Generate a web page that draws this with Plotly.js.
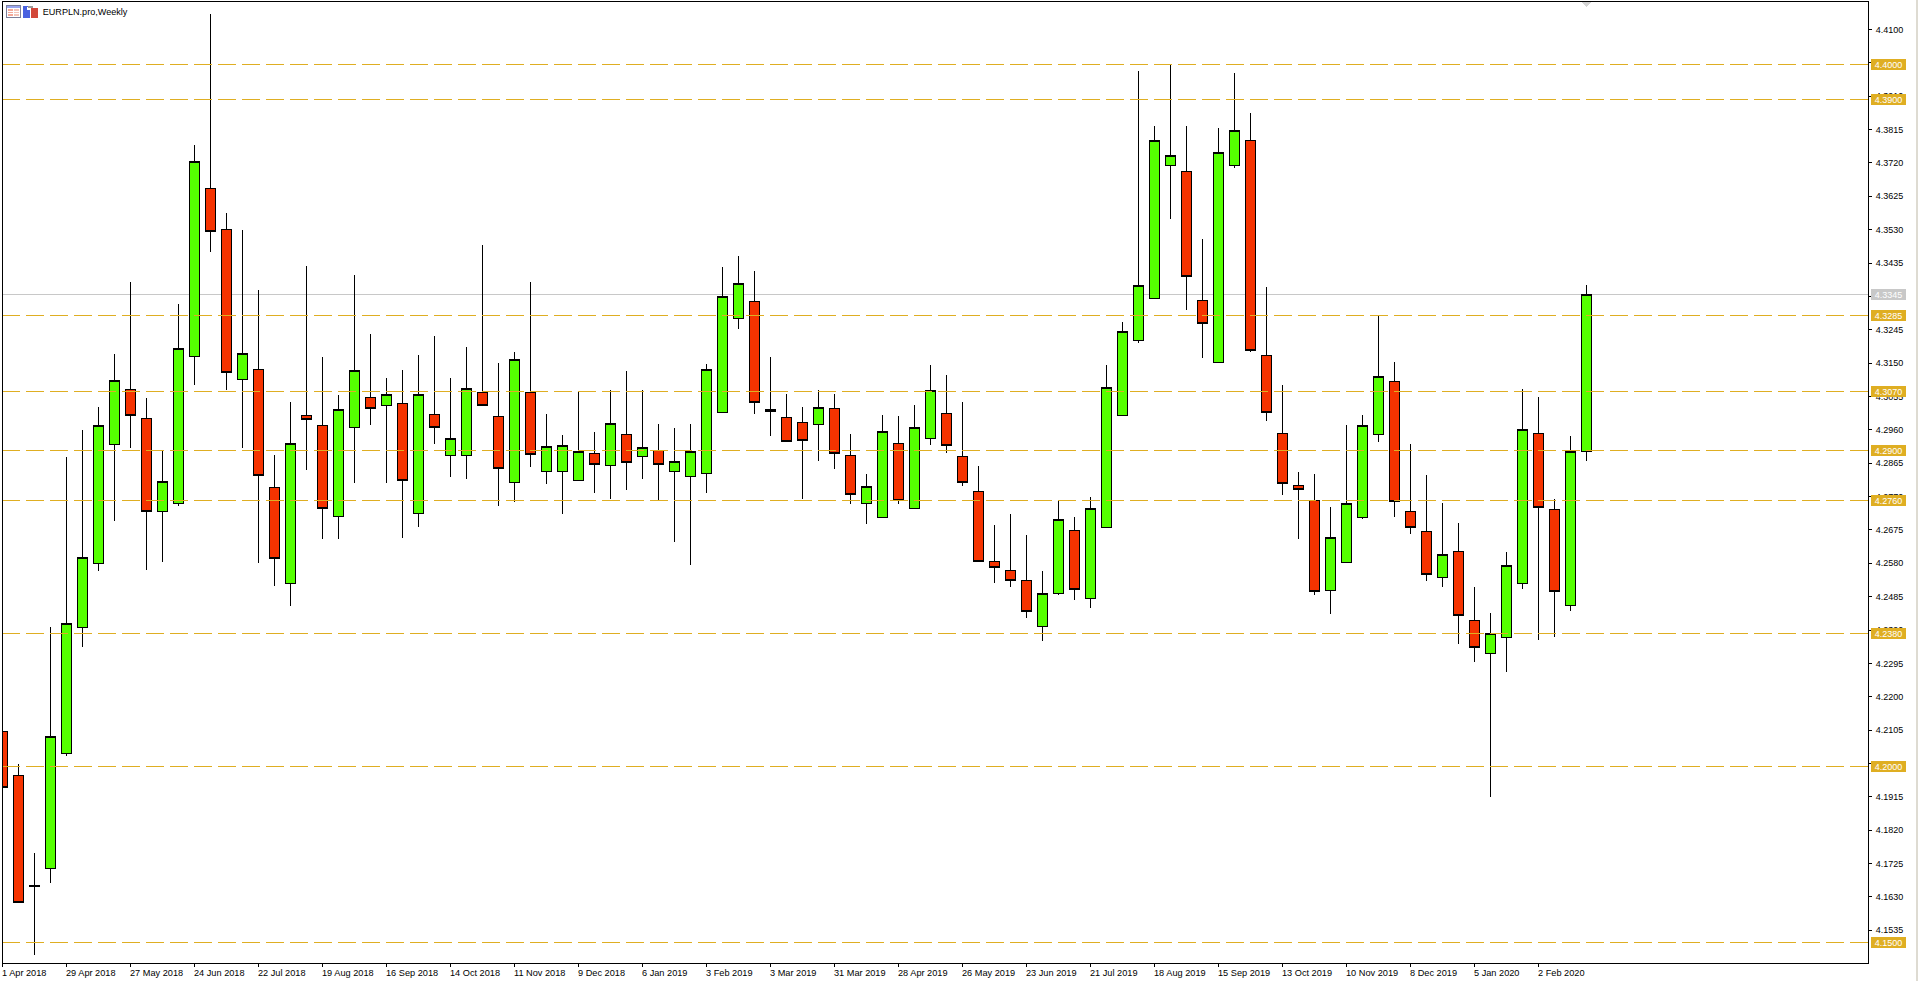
<!DOCTYPE html>
<html>
<head>
<meta charset="utf-8">
<script src="https://cdn.plot.ly/plotly-3.0.1.min.js"></script>
<style>
html,body{margin:0;padding:0;background:#dedbd2;overflow:hidden}
#chart{position:absolute;left:0;top:0;width:1916px;height:981px;background:#fff}
.shapelayer path,.boxlayer path{shape-rendering:crispEdges}
</style>
</head>
<body>
<div id="chart"></div>
<script>
const chartTitle = 'EURPLN.pro,Weekly';

const opens = [4.21008,4.19755,4.16625,4.17107,4.20382,4.23969,4.25792,4.29180,4.30746,4.29921,
4.27273,4.27500,4.31686,4.36469,4.35302,4.31031,4.31316,4.27956,4.25222,4.30006,
4.29721,4.27130,4.29664,4.30519,4.30291,4.30348,4.27216,4.30035,4.28867,4.28867,
4.30661,4.29977,4.28098,4.30661,4.28411,4.28411,4.28155,4.28924,4.28582,4.29465,
4.28839,4.29010,4.28411,4.28269,4.28355,4.30091,4.32768,4.33252,4.30177,4.29949,
4.29807,4.29750,4.30205,4.28867,4.27500,4.27102,4.29209,4.27358,4.29351,4.30063,
4.28839,4.27842,4.25849,4.25593,4.25308,4.23998,4.24938,4.26732,4.24795,4.26817,
4.30006,4.32142,4.33338,4.37125,4.36954,4.33281,4.31515,4.37125,4.37836,4.31715,
4.29494,4.28013,4.27586,4.25023,4.25820,4.27102,4.29465,4.30974,4.27273,4.26703,
4.25393,4.26134,4.24169,4.23229,4.23685,4.25222,4.29494,4.27329,4.24596,4.28981];

const closes = [4.19413,4.16139,4.16596,4.20866,4.24083,4.25963,4.29721,4.31003,4.30006,4.27273,
4.28127,4.31914,4.37238,4.35245,4.31230,4.31771,4.28297,4.25934,4.29209,4.29892,
4.27358,4.30177,4.31287,4.30205,4.30604,4.28155,4.30604,4.29664,4.29351,4.30775,
4.30291,4.28497,4.31601,4.28896,4.29123,4.29152,4.28981,4.28611,4.29778,4.28668,
4.29095,4.28611,4.28696,4.28981,4.31316,4.33394,4.33765,4.30376,4.30120,4.29266,
4.29294,4.30234,4.28924,4.27757,4.27984,4.29550,4.27586,4.29664,4.30718,4.29152,
4.28098,4.25849,4.25678,4.25308,4.24425,4.24938,4.27045,4.25052,4.27358,4.30803,
4.32398,4.33708,4.37836,4.37409,4.33964,4.32626,4.37495,4.38121,4.31857,4.30091,
4.28070,4.27899,4.24995,4.26532,4.27500,4.29721,4.31117,4.27557,4.26817,4.25479,
4.26048,4.24311,4.23400,4.23799,4.25735,4.29607,4.27386,4.24995,4.28981,4.33451];

const highs = [4.21008,4.20083,4.17549,4.23984,4.28824,4.29593,4.30248,4.31757,4.33807,4.30496,
4.28995,4.33181,4.37708,4.41438,4.35772,4.35288,4.33580,4.28881,4.30390,4.34263,
4.31672,4.30590,4.34007,4.32327,4.31074,4.31302,4.31729,4.32270,4.31074,4.31957,
4.34861,4.31501,4.31814,4.33807,4.30049,4.29451,4.30684,4.29536,4.30732,4.31273,
4.30732,4.29764,4.29650,4.29764,4.31472,4.34234,4.34548,4.34121,4.31672,4.30618,
4.30248,4.30732,4.30618,4.29479,4.28340,4.30020,4.29992,4.30305,4.31444,4.31159,
4.30390,4.28568,4.26888,4.27201,4.26603,4.25578,4.27572,4.27116,4.27685,4.31444,
4.32668,4.39815,4.38249,4.39986,4.38249,4.35032,4.38192,4.39758,4.38619,4.33665,
4.30875,4.28397,4.28340,4.27401,4.29736,4.30020,4.32839,4.31529,4.29195,4.28312,
4.27515,4.26945,4.25123,4.24382,4.26119,4.30761,4.30533,4.27628,4.29422,4.33722];

const lows = [4.19413,4.16139,4.14653,4.16703,4.20311,4.23423,4.25587,4.27002,4.29081,4.25607,
4.25835,4.27429,4.30883,4.34670,4.30741,4.29081,4.25815,4.25151,4.24582,4.28454,
4.26490,4.26490,4.28084,4.29736,4.28084,4.26526,4.26840,4.29203,4.28263,4.28207,
4.30291,4.27437,4.27552,4.28548,4.28064,4.27210,4.28155,4.27808,4.27637,4.27893,
4.28207,4.27600,4.26413,4.25758,4.27808,4.30091,4.32469,4.30057,4.29431,4.29266,
4.27628,4.28710,4.28483,4.27486,4.26917,4.27102,4.27486,4.27358,4.29166,4.28938,
4.27999,4.25849,4.25237,4.25123,4.24240,4.23585,4.24895,4.24753,4.24525,4.26817,
4.30006,4.32079,4.33338,4.35601,4.33019,4.31652,4.31515,4.37062,4.31823,4.29849,
4.27742,4.26490,4.24895,4.24362,4.25820,4.27059,4.29251,4.27116,4.26632,4.25294,
4.25123,4.23500,4.22987,4.19146,4.22702,4.25066,4.23614,4.23699,4.24448,4.28710];

const dateTickIndex = [0,4,8,12,16,20,24,28,32,36,40,44,48,52,56,60,64,68,72,76,80,84,88,92,96];
const dateTickLabels = ['1 Apr 2018','29 Apr 2018','27 May 2018','24 Jun 2018','22 Jul 2018','19 Aug 2018','16 Sep 2018','14 Oct 2018','11 Nov 2018','9 Dec 2018','6 Jan 2019','3 Feb 2019','3 Mar 2019','31 Mar 2019','28 Apr 2019','26 May 2019','23 Jun 2019','21 Jul 2019','18 Aug 2019','15 Sep 2019','13 Oct 2019','10 Nov 2019','8 Dec 2019','5 Jan 2020','2 Feb 2020'];

const priceTicks = [4.4100,4.4005,4.3910,4.3815,4.3720,4.3625,4.3530,4.3435,4.3340,4.3245,4.3150,4.3055,4.2960,4.2865,4.2770,4.2675,4.2580,4.2485,4.2390,4.2295,4.2200,4.2105,4.2010,4.1915,4.1820,4.1725,4.1630,4.1535];

const goldLevels = [4.4000,4.3900,4.3285,4.3070,4.2900,4.2760,4.2380,4.2000,4.1500];
const lastPrice = 4.3345;

const GOLD = '#DFAE22', GREY = '#C8C8C8', FONT = '"Liberation Sans", Arial, sans-serif';
const W = 1916, H = 981, L = 2, R = 1868, T = 2, B = 963;
const ROW_4_40 = 64.58, PX_PER_UNIT = 3512;
const px = v => (v - L) / (R - L);
const py = v => 1 - (v - T) / (B - T);

function rect(x0, y0, x1, y1, fill, line) {
  return {type:'rect', xref:'paper', yref:'paper', x0:px(x0), x1:px(x1), y0:py(y0), y1:py(y1),
    fillcolor:fill, line:{color:line||fill, width:line?1:0}, layer:'above'};
}

const weekIndex = opens.map((_, i) => i);

const candles = {
  type:'candlestick', x:weekIndex, open:opens, high:highs, low:lows, close:closes,
  whiskerwidth:0,
  increasing:{line:{color:'#000', width:1}, fillcolor:'#55FF00'},
  decreasing:{line:{color:'#000', width:1}, fillcolor:'#F53300'},
  hoverinfo:'skip', showlegend:false
};

const shapes = [
  {type:'line', xref:'paper', yref:'y', x0:0, x1:1, y0:lastPrice, y1:lastPrice, layer:'below', line:{color:GREY, width:1}}
].concat(goldLevels.map(l => ({
  type:'line', xref:'paper', yref:'y', x0:0, x1:1, y0:l, y1:l, layer:'above',
  line:{color:GOLD, width:1, dash:'18px,6px'}
}))).concat([
  // left border of the chart window
  {type:'line', xref:'paper', yref:'paper', x0:px(2.5), x1:px(2.5), y0:0, y1:1, layer:'above', line:{color:'#000', width:1}},
  // window icons beside the title
  rect(6.5,5.5,20.5,17.5,'#ffffff','#7d7f99'),
  rect(7,6,20,8,'#9aa6ee'),
  rect(8,9,13,10.5,'#f4a898'), rect(8,11.5,13,13,'#f4a898'), rect(8,14,13,15.5,'#f4a898'),
  rect(14,9,19,10.5,'#f4c4b8'), rect(14,11.5,19,13,'#f4c4b8'), rect(14,14,19,15.5,'#f4c4b8'),
  rect(23,6,30,17.5,'#4a62e0'), rect(27,7,30,10,'#ffffff'),
  rect(31,8,38,17.5,'#d2483a'), rect(28,6,33,8,'#9a9a9a'),
  // scroll marker at the top of the last bar
  {type:'path', xref:'paper', yref:'paper', layer:'above', line:{width:0}, fillcolor:'#d4d4d4',
   path:`M ${px(1582)} ${py(2)} L ${px(1591)} ${py(2)} L ${px(1586.5)} ${py(7)} Z`}
]);

const priceLabel = (v, c) => ({
  xref:'paper', yref:'y', x:px(1870.5), y:v, xanchor:'left', yanchor:'middle',
  text:v.toFixed(4), showarrow:false, bgcolor:c, width:35, height:11, borderpad:0, borderwidth:0,
  align:'center', valign:'middle', font:{family:FONT, size:9, color:'#fff'}
});

const annotations = dateTickIndex.map((idx, k) => ({
  xref:'x', yref:'paper', x:idx, y:py(973), xanchor:'left', yanchor:'middle', xshift:-2,
  text:dateTickLabels[k], showarrow:false, borderpad:0,
  font:{family:FONT, size:9.2, color:'#000'}
})).concat(goldLevels.map(v => priceLabel(v, GOLD))).concat([priceLabel(lastPrice, GREY)]);

const layout = {
  width:W, height:H, autosize:false,
  margin:{l:L, r:W-R, t:T, b:H-B, pad:0},
  paper_bgcolor:'#fff', plot_bgcolor:'#fff',
  showlegend:false, hovermode:false, boxgap:0.375, boxgroupgap:0,
  font:{family:FONT, size:9, color:'#000'},
  title:{text:chartTitle, xref:'paper', yref:'container', x:px(42.7), xanchor:'left', y:1-11.7/H, yanchor:'middle',
    font:{family:FONT, size:9.1, color:'#000'}, pad:{l:0, r:0, t:0, b:0}},
  xaxis:{
    type:'linear', range:[(L-2.5)/16,(R-2.5)/16], autorange:false, rangeslider:{visible:false},
    tickmode:'array', tickvals:dateTickIndex, ticktext:dateTickLabels, showticklabels:false,
    ticks:'outside', ticklen:3, tickwidth:1, tickcolor:'#000',
    showgrid:false, zeroline:false, showline:true, linecolor:'#000', linewidth:1, mirror:true
  },
  yaxis:{
    type:'linear', side:'right', range:[4.40-(B-ROW_4_40)/PX_PER_UNIT, 4.40+(ROW_4_40-T)/PX_PER_UNIT], autorange:false,
    tickmode:'array', tickvals:priceTicks, tickformat:'.4f',
    ticks:'outside', ticklen:3, tickwidth:1, tickcolor:'#000', ticklabelstandoff:2,
    tickfont:{family:FONT, size:9, color:'#000'},
    showgrid:false, zeroline:false, showline:true, linecolor:'#000', linewidth:1, mirror:false
  },
  shapes:shapes, annotations:annotations
};

Plotly.newPlot('chart', [candles], layout, {staticPlot:true, displayModeBar:false, responsive:false});
</script>
</body>
</html>
